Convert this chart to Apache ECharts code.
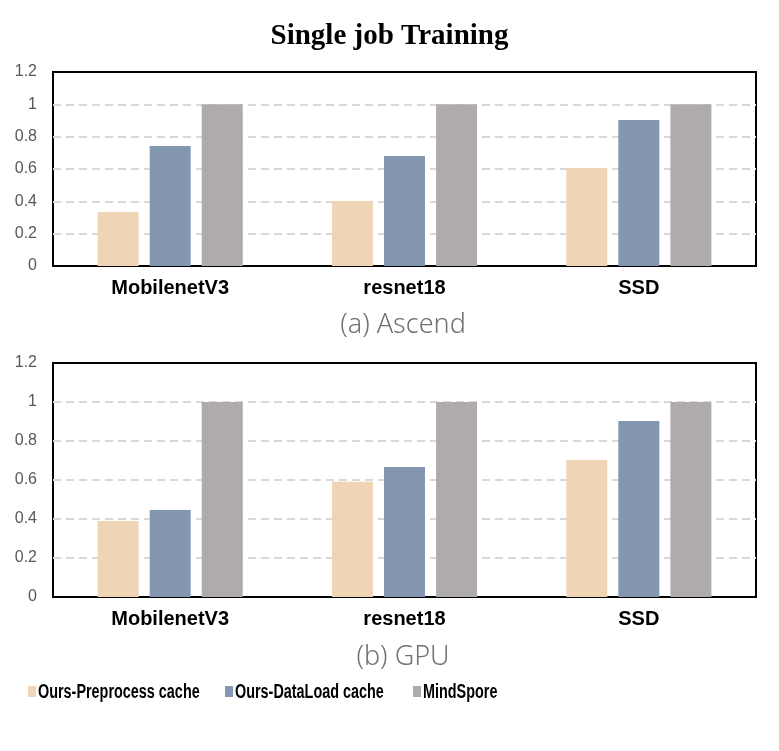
<!DOCTYPE html>
<html>
<head>
<meta charset="utf-8">
<script src="https://cdn.jsdelivr.net/npm/echarts@6/dist/echarts.min.js"></script>
<style>
  html, body { margin: 0; padding: 0; background: #ffffff; }
  #main { width: 779px; height: 751px; }
</style>
</head>
<body>
<div id="main"></div>
<script>
// data
const models = ['MobilenetV3', 'resnet18', 'SSD'];
const seriesNames = ['Ours-Preprocess cache', 'Ours-DataLoad cache', 'MindSpore'];
const ascendPreprocess = [0.334, 0.402, 0.606];
const ascendDataLoad = [0.742, 0.68, 0.903];
const ascendMindSpore = [1, 1, 1];
const gpuPreprocess = [0.39, 0.591, 0.703];
const gpuDataLoad = [0.446, 0.667, 0.903];
const gpuMindSpore = [1, 1, 1];
const panelLabels = ['(a) Ascend', '(b) GPU'];

const colors = ['#EFD5B5', '#8497B0', '#AFABAB'];
const sansFont = '"Liberation Sans", Arial, sans-serif';

const chart = echarts.init(document.getElementById('main'));

function makeXAxis(gridIndex) {
  return {
    type: 'category',
    gridIndex: gridIndex,
    data: models,
    axisLine: { show: false },
    axisTick: { show: false },
    axisLabel: {
      color: '#000000',
      fontFamily: sansFont,
      fontWeight: 'bold',
      fontSize: 20,
      margin: 12
    }
  };
}

function makeYAxis(gridIndex) {
  return {
    type: 'value',
    gridIndex: gridIndex,
    min: 0,
    max: 1.2,
    interval: 0.2,
    axisLine: { show: false },
    axisTick: { show: false },
    axisLabel: {
      color: '#595959',
      fontFamily: sansFont,
      fontSize: 16,
      margin: 16,
      formatter: function (v) { return String(Math.round(v * 10) / 10); }
    },
    splitLine: {
      show: true,
      showMinLine: false,
      showMaxLine: false,
      lineStyle: { color: '#D9D9D9', width: 2, type: [8, 5] }
    }
  };
}

function makeBar(name, data, idx, axisIdx) {
  return {
    name: name,
    type: 'bar',
    xAxisIndex: axisIdx,
    yAxisIndex: axisIdx,
    data: data,
    barWidth: 41,
    barGap: '27%',
    itemStyle: { color: colors[idx] },
    silent: true
  };
}

const legendItems = [
  { x: 28, text: seriesNames[0], c: colors[0] },
  { x: 225, text: seriesNames[1], c: colors[1] },
  { x: 413, text: seriesNames[2], c: colors[2] }
];
const legendGraphics = [];
legendItems.forEach(function (it) {
  legendGraphics.push({
    type: 'rect',
    left: it.x, top: 686,
    shape: { width: 8, height: 11 },
    style: { fill: it.c }
  });
  legendGraphics.push({
    type: 'text',
    x: it.x + 10, y: 692,
    scaleX: 0.72,
    style: {
      text: it.text,
      fill: '#000000',
      font: 'bold 20px ' + sansFont,
      verticalAlign: 'middle',
      align: 'left'
    }
  });
});

const option = {
  animation: false,
  backgroundColor: '#ffffff',
  title: {
    text: 'Single job Training',
    left: 'center',
    top: 17,
    textStyle: {
      fontFamily: '"Liberation Serif", "Times New Roman", serif',
      fontWeight: 'bold',
      fontSize: 29,
      color: '#000000'
    }
  },
  grid: [
    { left: 53, right: 23, top: 72, height: 194, show: true, borderColor: '#000000', borderWidth: 2, backgroundColor: 'transparent' },
    { left: 53, right: 23, top: 363, height: 234, show: true, borderColor: '#000000', borderWidth: 2, backgroundColor: 'transparent' }
  ],
  xAxis: [makeXAxis(0), makeXAxis(1)],
  yAxis: [makeYAxis(0), makeYAxis(1)],
  series: [
    makeBar(seriesNames[0], ascendPreprocess, 0, 0),
    makeBar(seriesNames[1], ascendDataLoad, 1, 0),
    makeBar(seriesNames[2], ascendMindSpore, 2, 0),
    makeBar(seriesNames[0], gpuPreprocess, 0, 1),
    makeBar(seriesNames[1], gpuDataLoad, 1, 1),
    makeBar(seriesNames[2], gpuMindSpore, 2, 1)
  ],
  graphic: [
    {
      type: 'text',
      x: 403, y: 325,
      style: { text: panelLabels[0], fill: '#767171', font: '300 27px "Noto Sans", sans-serif', align: 'center', verticalAlign: 'middle' }
    },
    {
      type: 'text',
      x: 403, y: 657,
      style: { text: panelLabels[1], fill: '#767171', font: '300 27px "Noto Sans", sans-serif', align: 'center', verticalAlign: 'middle' }
    }
  ].concat(legendGraphics)
};

chart.setOption(option);
</script>
</body>
</html>
